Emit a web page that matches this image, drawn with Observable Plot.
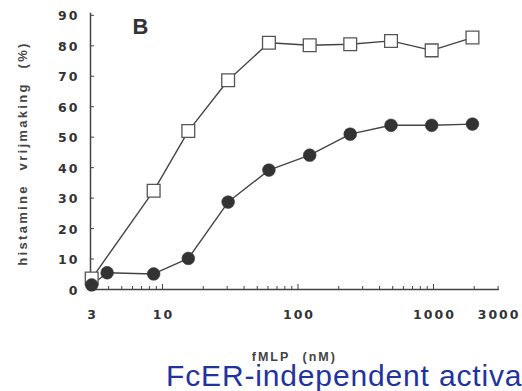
<!DOCTYPE html>
<html>
<head>
<meta charset="utf-8">
<script src="https://cdn.jsdelivr.net/npm/d3@7"></script>
<script src="https://cdn.jsdelivr.net/npm/@observablehq/plot@0.6"></script>
<style>
  html, body { margin: 0; padding: 0; background: #fff; overflow: hidden; width: 522px; height: 391px; }
  #chart svg { display: block; }
  #caption {
    font-family: "Liberation Sans", Arial, sans-serif; font-size: 30px; line-height: 20px;
    color: #2233a0; margin-left: 166px; white-space: nowrap; letter-spacing: 0.85px;
  }
</style>
</head>
<body>
<div id="chart"></div>
<div id="caption">FcER-independent activa</div>
<script>
// fMLP concentration (nM) and histamine release (%)
const xSquares = [3, 8.6, 15.5, 30.5, 61, 122, 243, 486, 970, 1940];
const ySquares = [3.6, 32.4, 52, 68.7, 81, 80.2, 80.5, 81.6, 78.5, 82.7];
const xCircles = [3, 3.9, 8.6, 15.5, 30.5, 61, 122, 243, 486, 970, 1940];
const yCircles = [1.5, 5.5, 5.1, 10.2, 28.7, 39.2, 44.1, 51.0, 53.9, 53.9, 54.3];

const yTicks = [0, 10, 20, 30, 40, 50, 60, 70, 80, 90];
const xTickLabels = [3, 10, 100, 1000, 3000];
const xMajorTicks = [10, 100, 1000];
const xMinorTicks = [4, 5, 6, 7, 8, 9, 20, 30, 40, 50, 60, 70, 80, 90,
                     200, 300, 400, 500, 600, 700, 800, 900, 2000, 3000];

const yTitle = "histamine vrijmaking (%)";
const xTitle = "fMLP (nM)";
const panelLabel = "B";

const squares = xSquares.map((x, i) => ({fmlp: x, release: ySquares[i]}));
const circles = xCircles.map((x, i) => ({fmlp: x, release: yCircles[i]}));

const lineColor = "#444";
const tickFont = {fontFamily: "DejaVu Sans", fontWeight: "bold", fontSize: 12.5, fill: "#333"};
const titleFont = {fontFamily: "Liberation Sans", fontWeight: "bold", fill: "#444"};

const chart = Plot.plot({
  width: 522,
  height: 366,
  marginLeft: 90,
  marginRight: 24.4,
  marginTop: 13,
  marginBottom: 77,
  x: {type: "log", domain: [2.94, 3000]},
  y: {domain: [0, 90.6]},
  marks: [
    Plot.frame({anchor: "left", stroke: lineColor, strokeWidth: 1.5}),
    Plot.frame({anchor: "bottom", stroke: lineColor, strokeWidth: 1.5}),
    Plot.axisY({ticks: yTicks, tickSize: -4, text: null, stroke: lineColor, label: null}),
    Plot.axisX(xMinorTicks, {tickSize: -3, text: null, stroke: lineColor, label: null}),
    Plot.axisX(xMajorTicks, {tickSize: -5, text: null, stroke: lineColor, label: null}),
    Plot.text(yTicks, {y: d => d, text: d => String(d), frameAnchor: "left", textAnchor: "end", dx: -11, dy: 1, ...tickFont}),
    Plot.text(xTickLabels, {x: d => d, text: d => String(d), frameAnchor: "bottom", lineAnchor: "top", dx: 1, dy: 21, ...tickFont}),
    Plot.line(squares, {x: "fmlp", y: "release", stroke: lineColor, strokeWidth: 1.4}),
    Plot.line(circles, {x: "fmlp", y: "release", stroke: lineColor, strokeWidth: 1.4}),
    Plot.dot(squares, {x: "fmlp", y: "release", symbol: "square", r: 7.2, fill: "white", stroke: "#555", strokeWidth: 1.3}),
    Plot.dot(circles, {x: "fmlp", y: "release", r: 6.4, fill: "#333", stroke: "#333", strokeWidth: 0.5}),
    Plot.text([yTitle], {frameAnchor: "left", textAnchor: "middle", rotate: -90, lineAnchor: "bottom", dx: -64, dy: 2, fontSize: 13, ...titleFont}),
    Plot.text([xTitle], {frameAnchor: "bottom", textAnchor: "middle", lineAnchor: "bottom", dy: 71.5, fontSize: 12.5, ...titleFont}),
    Plot.text([panelLabel], {frameAnchor: "top-left", textAnchor: "start", lineAnchor: "top", dx: 42, dy: 5, fontSize: 22, fontFamily: "Liberation Sans", fontWeight: "bold", fill: "#333"})
  ]
});

// letter spacing as in the scanned figure
const sel = d3.select(chart).selectAll("text");
sel.filter(function() { return yTicks.map(String).includes(this.textContent) || xTickLabels.map(String).includes(this.textContent); })
  .style("letter-spacing", "2px");
sel.filter(function() { return this.textContent === yTitle; })
  .style("letter-spacing", "2.3px").style("word-spacing", "8px");
sel.filter(function() { return this.textContent === xTitle; })
  .style("letter-spacing", "2px").style("word-spacing", "7px");

document.getElementById("chart").appendChild(chart);
</script>
</body>
</html>
